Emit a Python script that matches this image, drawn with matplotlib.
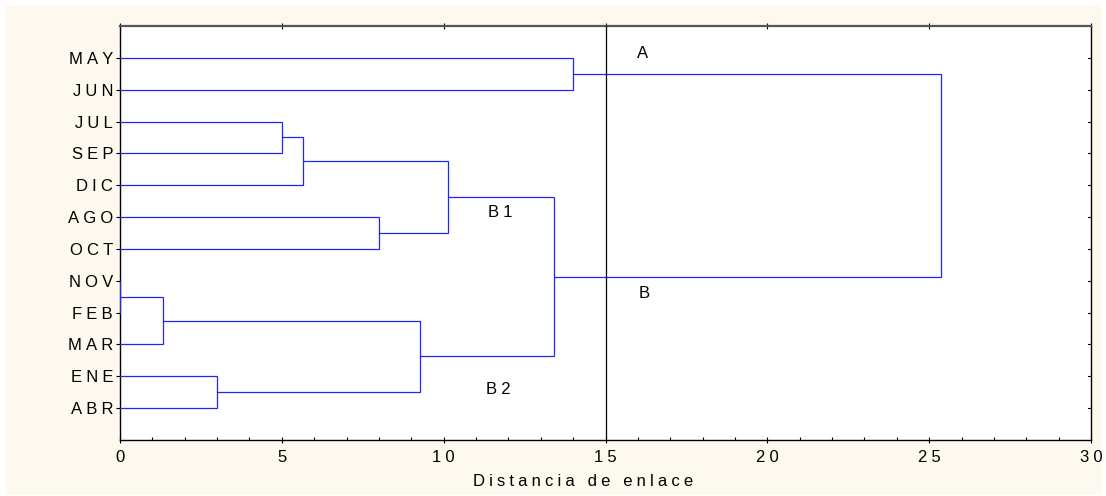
import matplotlib
matplotlib.use('Agg')
import numpy as np
from matplotlib import pyplot as plt
import matplotlib.patches as mpatches

# leaves, top to bottom
labels = ['MAY', 'JUN', 'JUL', 'SEP', 'DIC', 'AGO', 'OCT', 'NOV', 'FEB', 'MAR', 'ENE', 'ABR']

# merges: leaf ids 0..11, new clusters get 12, 13, ...
left_ids  = [7, 12, 10, 2, 15, 5, 13, 16, 19, 0, 21]
right_ids = [8, 9, 11, 3, 4, 6, 14, 17, 18, 1, 20]
heights   = [0.0, 1.32, 3.0, 5.0, 5.66, 8.0, 9.27, 10.12, 13.4, 14.0, 25.37]

cut = 15
group_names = ['A', 'B', 'B1', 'B2']
group_x = [16.15, 16.2, 11.75, 11.7]
group_y = [-0.15, 7.4, 4.85, 10.4]

xlabel = 'Distancia de enlace'
xticks = [0, 5, 10, 15, 20, 25, 30]

FONT = ['Liberation Sans', 'DejaVu Sans']
SP = '\u2005'
FS = 12


def spaced(s):
    return SP.join(s)


fig = plt.figure(figsize=(11.06, 4.96), dpi=100)
fig.patch.set_facecolor('white')
fig.patches.append(mpatches.Rectangle((6 / 1106, 1 / 496), 1096 / 1106, 490 / 496,
                                      transform=fig.transFigure, facecolor='#fdf9ef',
                                      edgecolor='none', zorder=-10))
ax = fig.add_axes([120 / 1106, 1 - 440 / 496, 971 / 1106, 414 / 496])
ax.set_facecolor('white')

# node positions
ypos = list(range(len(labels)))
xpos = [0.0] * len(labels)
for l, r, h in zip(left_ids, right_ids, heights):
    yl, yr = ypos[l], ypos[r]
    ax.plot([xpos[l], h, h, xpos[r]], [yl, yl, yr, yr], color='#2424f5', lw=0.9,
            solid_joinstyle='miter', zorder=3)
    ypos.append((yl + yr) / 2)
    xpos.append(h)

ax.axvline(cut, color='black', lw=0.9, zorder=4)

for name, gx, gy in zip(group_names, group_x, group_y):
    ax.text(gx, gy, spaced(name), ha='center', va='center', fontsize=FS,
            family=FONT, color='black')

ax.set_xlim(0, 30)
ax.set_ylim(len(labels), -1)

ax.set_xticks(xticks)
ax.set_xticklabels([spaced(str(t)) for t in xticks], family=FONT, fontsize=FS)
ax.set_xticks(np.arange(0, 31, 1), minor=True)
ax.set_yticks(range(len(labels)))
ax.set_yticklabels([spaced(s) for s in labels], family=FONT, fontsize=FS)

ax.tick_params(axis='x', which='major', direction='inout', length=5, width=0.8,
               top=True, pad=5)
ax.tick_params(axis='x', which='minor', direction='in', length=2.5, width=0.8, top=False)
ax.tick_params(axis='y', which='major', direction='out', length=3, width=0.8,
               right=False, pad=2)
for yy in range(len(labels)):
    ax.plot([29.9, 30], [yy, yy], color='black', lw=0.8, clip_on=False, zorder=5)

for sp in ax.spines.values():
    sp.set_linewidth(1.0)
    sp.set_color('black')
ax.spines['top'].set_linewidth(1.6)
ax.spines['top'].set_color('#555555')

ax.set_xlabel(spaced(xlabel), family=FONT, fontsize=FS)
ax.xaxis.set_label_coords(0.477, -0.083)

plt.savefig('out.png', dpi=100, facecolor=fig.get_facecolor())
